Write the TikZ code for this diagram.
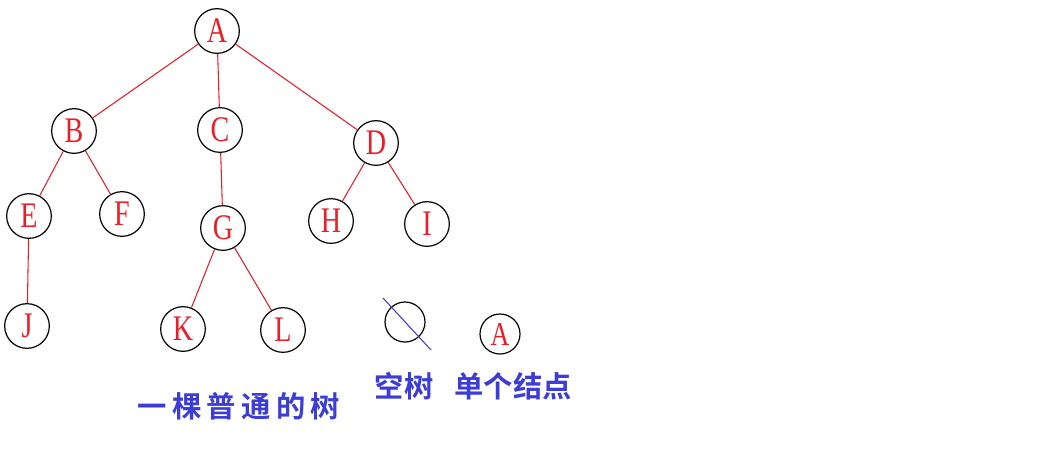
\documentclass[tikz,border=0pt]{standalone}
\usepackage{fontspec}
\setmainfont{Liberation Serif}
\newfontfamily\letterfont{Liberation Serif}[FakeStretch=0.78]
\newfontfamily\cjk{Noto Sans CJK SC}[BoldFont={Noto Sans CJK SC Bold}]
\usepackage{tikz}
\usetikzlibrary{positioning}

\definecolor{treered}{RGB}{235,30,40}
\definecolor{capblue}{RGB}{60,60,215}

\begin{document}
\begin{tikzpicture}[
      x=0.75pt, y=-0.75pt,
      vertex/.style={circle, draw=black, line width=0.9pt, minimum size=33.5pt,
                     inner sep=0pt, text=treered, font=\letterfont\fontsize{27}{27}\selectfont},
      edge/.style={draw=treered, line width=0.8pt},
      slash/.style={draw=capblue, line width=0.8pt},
      caption/.style={text=capblue, font=\cjk\bfseries\fontsize{22}{22}\selectfont, inner sep=0pt}
    ]
    \useasboundingbox (0,0) rectangle (1060,454);

    % an ordinary tree
    \node[vertex] (A) at (217,31) {A};
    \node[vertex] (B) at (74,131) {B};
    \node[vertex] (C) at (220,130) {C};
    \node[vertex] (D) at (376,143) {D};
    \node[vertex] (E) at (29,216) {E};
    \node[vertex] (F) at (122,214) {F};
    \node[vertex] (G) at (223,228) {G};
    \node[vertex] (H) at (331,221) {H};
    \node[vertex] (I) at (427,224) {I};
    \node[vertex] (J) at (27,326) {J};
    \node[vertex] (K) at (183,329) {K};
    \node[vertex] (L) at (283,330) {L};

    \draw[edge] (A) -- (B);
    \draw[edge] (A) -- (C);
    \draw[edge] (A) -- (D);
    \draw[edge] (B) -- (E);
    \draw[edge] (B) -- (F);
    \draw[edge] (C) -- (G);
    \draw[edge] (D) -- (H);
    \draw[edge] (D) -- (I);
    \draw[edge] (E) -- (J);
    \draw[edge] (G) -- (K);
    \draw[edge] (G) -- (L);

    % empty tree and single node
    \node[vertex, minimum size=30pt] (empty) at (405,322) {};
    \coordinate (cut1) at (383,298);
    \coordinate (cut2) at (431,350);
    \draw[slash] (cut1) -- (cut2);
    \node[vertex, minimum size=30pt, font=\letterfont\fontsize{25}{25}\selectfont] (single) at (500,334) {A};

    \node[caption] (treecap) at (239,406) {一\hspace{4pt}棵\hspace{4pt}普\hspace{4pt}通\hspace{4pt}的\hspace{4pt}树};
    \node[caption] (emptycap) at (404,386) {空树};
    \node[caption] (singlecap) at (513,386) {单个结点};
  \end{tikzpicture}
\end{document}
